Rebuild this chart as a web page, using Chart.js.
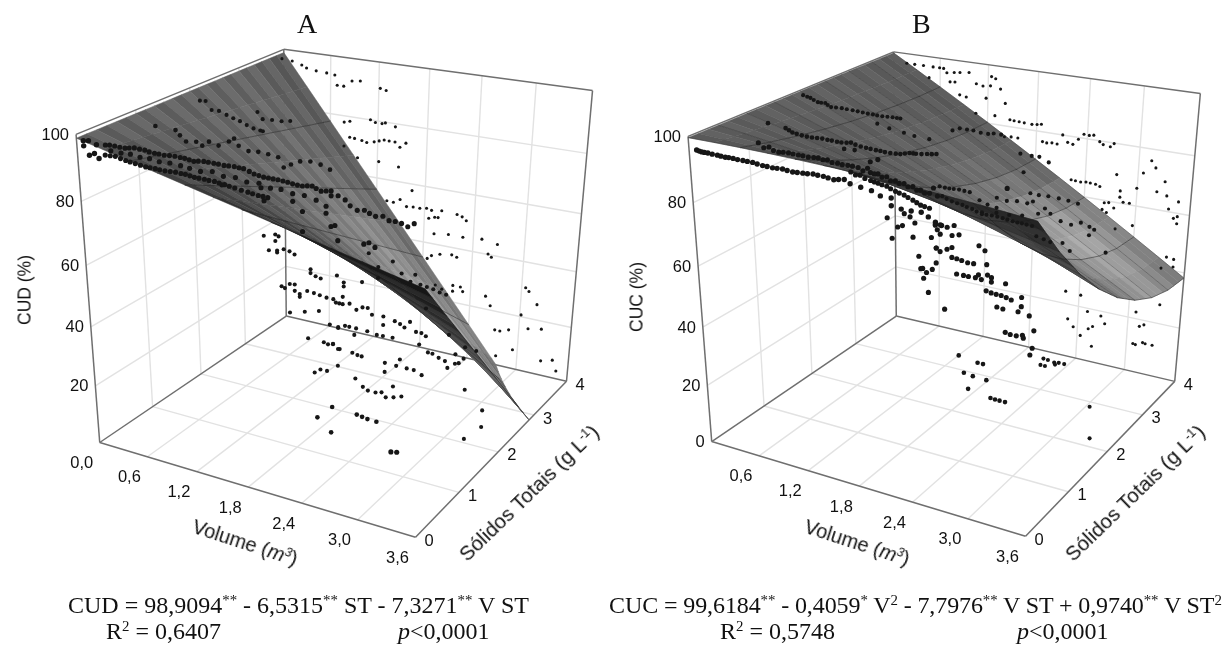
<!DOCTYPE html>
<html>
<head>
<meta charset="utf-8">
<script src="https://cdn.jsdelivr.net/npm/chart.js@4/dist/chart.umd.min.js"></script>
<style>
html, body { margin: 0; padding: 0; background: #fff; }
#page { position: relative; width: 1223px; height: 646px; overflow: hidden; }
canvas { position: absolute; top: 0; }
.t { position: absolute; white-space: nowrap; color: #111; }
.serif { font-family: "Liberation Serif", serif; }
.sans { font-family: "Liberation Sans", sans-serif; }
sup { font-size: .62em; line-height: 0; vertical-align: .55em; }
</style>
</head>
<body>
<div id="page">
  <canvas id="chartA" width="610" height="646" style="left:0"></canvas>
  <canvas id="chartB" width="613" height="646" style="left:610px"></canvas>

  <div class="t serif" style="left:297px;top:8px;font-size:28px">A</div>
  <div class="t serif" style="left:912px;top:8px;font-size:28px">B</div>

  <div class="t sans" style="left:25px;top:290px;font-size:17.5px;transform:translate(-50%,-50%) rotate(-90deg)">CUD (%)</div>
  <div class="t sans" style="left:637px;top:297px;font-size:17.5px;transform:translate(-50%,-50%) rotate(-90deg)">CUC (%)</div>
  <div class="t sans" style="left:245px;top:543px;font-size:20px;transform:translate(-50%,-50%) rotate(18deg)">Volume (<i>m<sup>3</sup></i>)</div>
  <div class="t sans" style="left:857px;top:543px;font-size:20px;transform:translate(-50%,-50%) rotate(18deg)">Volume (<i>m<sup>3</sup></i>)</div>
  <div class="t sans" style="left:529px;top:493px;font-size:20.5px;transform:translate(-50%,-50%) rotate(-44deg)">Sólidos Totais (g L<sup>-1</sup>)</div>
  <div class="t sans" style="left:1135px;top:493px;font-size:20.5px;transform:translate(-50%,-50%) rotate(-44deg)">Sólidos Totais (g L<sup>-1</sup>)</div>

  <div class="t serif" style="left:68px;top:592px;font-size:24px">CUD = 98,9094<sup>**</sup> - 6,5315<sup>**</sup> ST - 7,3271<sup>**</sup> V ST</div>
  <div class="t serif" style="left:106px;top:618px;font-size:24px">R<sup>2</sup> = 0,6407</div>
  <div class="t serif" style="left:398px;top:618px;font-size:24px"><i>p</i>&lt;0,0001</div>
  <div class="t serif" style="left:609px;top:592px;font-size:24px;letter-spacing:-.1px">CUC = 99,6184<sup>**</sup> - 0,4059<sup>*</sup> V<sup>2</sup> - 7,7976<sup>**</sup> V ST + 0,9740<sup>**</sup> V ST<sup>2</sup></div>
  <div class="t serif" style="left:720px;top:618px;font-size:24px">R<sup>2</sup> = 0,5748</div>
  <div class="t serif" style="left:1017px;top:618px;font-size:24px"><i>p</i>&lt;0,0001</div>
</div>

<script>
const volumeTicks = [0, 0.6, 1.2, 1.8, 2.4, 3.0, 3.6];
const stTicks = [0, 1, 2, 3, 4];
const pctTicks = [0, 20, 40, 60, 80, 100];

// fitted surface heights read at volume = 0, 0.3 .. 3.6 (rows), st = 0, 0.5 .. 4 (cols)
const surfaceVol = [0, 0.3, 0.6, 0.9, 1.2, 1.5, 1.8, 2.1, 2.4, 2.7, 3.0, 3.3, 3.6];
const surfaceSt = [0, 0.5, 1, 1.5, 2, 2.5, 3, 3.5, 4];
const surfaceA = [
  [98.9, 98.9, 98.9, 98.9, 98.9, 98.9, 98.9, 98.9, 98.9],
  [96.95, 95.85, 94.75, 93.65, 92.56, 91.46, 90.36, 89.26, 88.16],
  [94.99, 92.79, 90.59, 88.4, 86.2, 84.0, 81.8, 79.6, 77.41],
  [93.03, 89.73, 86.44, 83.14, 79.84, 76.55, 73.25, 69.95, 66.66],
  [91.07, 86.67, 82.28, 77.88, 73.49, 69.09, 64.69, 60.3, 55.9],
  [89.11, 83.61, 78.12, 72.62, 67.13, 61.63, 56.14, 50.64, 45.15],
  [87.15, 80.55, 73.96, 67.37, 60.77, 54.18, 47.59, 40.99, 34.4],
  [85.19, 77.5, 69.8, 62.11, 54.42, 46.72, 39.03, 31.34, 23.64],
  [83.23, 74.44, 65.65, 56.85, 48.06, 39.27, 30.47, 21.68, 12.89],
  [81.27, 71.38, 61.49, 51.6, 41.7, 31.81, 21.92, 12.03, 2.14],
  [79.32, 68.33, 57.34, 46.35, 35.36, 24.37, 13.38, 2.39, -8.6],
  [77.36, 65.27, 53.18, 41.09, 29.0, 16.91, 4.82, -7.27, -19.36],
  [75.4, 62.21, 49.02, 35.83, 22.64, 9.45, -3.74, -16.93, -30.12]
];
const surfaceB = [
  [99.62, 99.62, 99.62, 99.62, 99.62, 99.62, 99.62, 99.62, 99.62],
  [99.58, 98.48, 97.53, 96.73, 96.07, 95.56, 95.19, 94.97, 94.9],
  [99.47, 97.28, 95.38, 93.77, 92.45, 91.43, 90.69, 90.25, 90.11],
  [99.29, 96.0, 93.15, 90.74, 88.76, 87.23, 86.13, 85.47, 85.25],
  [99.04, 94.65, 90.85, 87.63, 85.0, 82.95, 81.49, 80.61, 80.31],
  [98.71, 93.23, 88.47, 84.45, 81.16, 78.6, 76.77, 75.67, 75.3],
  [98.3, 91.72, 86.02, 81.19, 77.24, 74.17, 71.97, 70.65, 70.21],
  [97.83, 90.15, 83.5, 77.87, 73.26, 69.68, 67.11, 65.57, 65.06],
  [97.28, 88.51, 80.9, 74.47, 69.2, 65.11, 62.18, 60.42, 59.83],
  [96.66, 86.79, 78.24, 71.0, 65.07, 60.46, 57.17, 55.19, 54.52],
  [95.97, 85.01, 75.5, 67.46, 60.87, 55.75, 52.09, 49.89, 49.15],
  [95.2, 83.14, 72.68, 63.83, 56.59, 50.96, 46.93, 44.51, 43.7],
  [94.36, 81.2, 69.79, 60.14, 52.24, 46.1, 41.7, 39.06, 38.18]
];

// observed points, one inner list per st level
const stLevels = [0, 0.4, 1.2, 2, 3.6];
const volA = [
  [.08,.14,.23,.08,.14,.2,.25],
  [.04,.15,.27,.38,.5,.61,.72,.84,.95,1.05,1.16,1.27,1.38,1.49,1.59,1.7,1.8,1.9,2,2.1,2.2,2.3,2.39,2.49,
   2.49,2.56,2.63,2.68,2.75,2.82,2.87,2.93,3,3.06,3.12,3.18,3.24,3.3,
   .03,.15,.27,.38,.5,.61,.72,.84,.95,1.05,1.16,1.27,1.38,1.49,1.63,1.74,1.84,
   1.35,1.77,1.8,2.1,2.2,2.44,2.44,2.49,2.2,2.53,2.56,2.82,2.87,2.93,
   1,1.12,1.25,1.37,1.5,1.62,1.75,1.87,1.98,2.1,2.22,2.34,3.14,3.2,
   .1,.22,.33,.44,.55,.66,.78,.9,
   .09,.21,.32,.44,.55,.66,.78,.9,1,1.1,1.21,1.32,1.43,1.54,1.65,1.75,1.85,1.95,2.05,2.15,2.25,2.34,2.44,
   .09,.21,.32,.44,.55,.66,.78,.9,1,1.1,1.21,1.32,1.43,1.56,1.68,1.79],
  [.09,.33,.38,.45,.57,.64,.72,.83,.95,1.01,1.06,1.17,1.28,1.39,1.5,1.56,1.64,1.74,1.85,1.96,2.06,
   2.1,1.93,2.09,2.38,2.44,2.5,2.6],
  [.12,.19,.26,.35,.44,.52,.6,.68,.76,.84,.87,.81,.87,.98,1.09,1.19,
   .86,1,1.04,1,.92,1.02,1.1,1.17,1.23,1.02,1.42,1.42,1.48,1.54,1.73,
   1.07,1.17,1.23,1.11,1.23,1.29,1.29,1.38,1.46,1.53,1.61,1.69,1.76,1.17,1.35,1.52,
   1.39,1.58,1.63,1.69,1.75,1.75,1.47,1.54,1.62,1.75,
   1.72,1.8,1.88,1.96,2.03,2.09,2.14,1.8,1.81,1.81,2.02,
   2.27,2.27,2.4,2.46,2.51,2.57,2.64,2.7,2.75,2.68,
   1.65,1.75,1.83,1.88,1.96,1.94,2.09,2.2,2.27,2.38,
   2.78,2.83,2.9,2.97,3.08,3.12,3,1.69,1.77,1.92,1.98,2.03,
   2.47,2.3,2.43,2.55,2.63,2.3,2.72,
   1.96,2.05,2.11,2.2,2.27,2.32,2.41,2.5,2.4,3.2,3.4,3.4,3.22,
   2.61,2.67,2.74,2.81,2.88,2.95,2.2,2.09,2.36,2.46,2.56,2.2,2.74,3,3.08,3.18,3.3,3.17],
  [.2,.33,.45,.51,.63,.76,.86,.89,.97,1.07,1.17,1.41,1.48,
   .98,1.05,1.3,1.36,1.44,1.48,1.6,
   1.05,1.11,1.2,1.26,1.35,1.41,1.47,1.53,1.6,1.66,1.73,
   .98,1.15,1.41,1.65,1.82,
   1.52,1.6,1.68,1.76,1.84,1.92,2,2.06,2.14,2.03,2.1,2.18,
   2.1,2.27,2.44,2.66,2.84,2.36,2.42,2.47,
   2.03,2.08,2.18,2.32,2.38,2.74,2.78,
   3.19,3.23,3.33,2.74,2.8,3.16,2.87,2.93,3.03,3.25,3.4,3.09,3.42,3.55,2.9,3.6,
   2.35,2.44,2.47,2.35,2.22,2.14]
];
const cudA = [
  [98.5,98.8,98,97,94.5,95.3,94.1],
  [94,94.2,94.1,94.7,94.6,94.2,94.1,94.4,94.3,93.9,94.4,94.4,94.3,94.5,94.4,93.4,93,93,92.9,92.6,92.5,93,92,92.6,
   91.2,91.6,90.8,89.4,88.5,88.9,88.3,87.8,88.2,87.3,87.4,87.2,86.6,87.8,
   90.9,91.1,90.4,90,89.6,89.6,89.5,89.7,89.6,89.2,89.2,89.1,88.7,88.3,87.8,87.4,87.3,
   88.5,89.8,86.2,87.6,85.2,88,86,82.5,79.4,83,78.8,79.3,80,79,
   91.6,91.3,91.9,91.1,91.4,90.7,91,90.2,90.4,89.8,89.9,89.2,18,18.4,
   92.5,92.4,92.6,92.2,92.3,91.9,92.1,91.9,
   94.2,94.1,94.4,94.6,94.3,94.2,94.3,94.3,94.1,94.2,94.4,94.4,94.4,94.4,93.9,93.2,93,93,92.8,92.5,92.8,92.5,92.3,
   91,90.7,90.2,89.8,89.6,89.5,89.6,89.6,89.4,89.2,89.1,88.9,88.5,88,87.6,87.4],
  [94,93.8,92.4,90.8,91.3,90.4,92,91.3,93.1,94.3,92.3,91.2,91.5,91.3,90.9,88.1,89.4,90.8,91.3,90.9,89.9,
   14,9,5,13.6,13.3,13,12.9],
  [96.4,96.6,94,94.1,93.2,92.5,91.9,91,90.3,90,89.9,95.7,93.7,93.9,94,94.5,
   55.6,56.8,56.4,54.6,51,51.5,52.4,52.1,51.4,50.8,47.5,46.2,45.5,45.1,47.3,
   39.5,40.9,41.1,39.1,38.9,38.2,37.2,39.8,39.6,39.3,39,39,38,30.9,32.4,33.8,
   23.3,23.2,22.8,23.4,22,29.4,11.5,13.1,13.2,16,
   38,38,38.7,37.1,38.4,38.6,36.6,40.5,45.4,44.1,46.9,
   36.9,34,36.2,35.6,34.8,37.1,34.2,34.2,33.5,30.2,
   29.9,29.7,30.7,30.7,30.7,28.3,30.6,30.1,30.2,30.4,
   28.2,28.1,27.2,26.6,26.5,27,24.5,23.3,22.1,21.9,21.5,21.4,
   23.5,21.1,21,21,21,17.9,19.9,
   13,10.7,9.8,9.8,10.4,9,9.7,10.7,13.5,18.5,12.9,7.1,1.4,
   53,50.1,49.8,49.5,48.9,48.6,53,56.9,55.8,52.5,50.4,49.4,42.7,35.7,29.7,32.8,32.4,28.9],
  [100,99.7,98.8,98,97.5,97.3,97,93.7,93.7,95.8,96.2,94.7,94.3,
   81.6,82.2,83.8,83.1,83.1,83.5,82.7,
   76.7,76.6,76.3,75.9,76.5,77.1,77.7,77.6,77.6,76.1,77.8,
   73.4,70.1,70,69.3,62,
   56.9,56.8,58.2,56.1,56.4,56.4,56.8,56.4,54.3,53.5,54.2,56.9,
   48.4,49.1,49.1,49.7,48.9,56.6,56.1,55,
   39.2,40.5,41.6,42.2,41.7,45,44.1,
   35.9,34.8,30.8,30,26.9,26,18.6,18.6,19.7,21.6,22.5,12.8,11.1,12.3,9.2,8.7,
   31.4,31.4,29.9,29.3,29.2,30.2]
];
const volB = [
  [.09,.15,.22,.33,.42,.51,.62,.73,.84,.95,1.06,1.17,1.28,1.39,1.5,1.61,1.72,
   1.78,1.89,2,2.09,2.2,2.2,2.3,2.4,2.5,2.57,2.64,2.7,
   .12,.18,.27,.37,.46,.56,.67,.78,.89,1,1.11,1.22,1.33,1.44,1.55,1.66],
  [.53,.65,.76,.87,.98,1.09,1.2,1.3,1.41,1.52,1.63,1.73,1.76,1.84,
   1.76,1.84,1.93,2.02,2.11,2.2,2.28,2.37,2.45,
   1.55,1.65,1.76,1.84,1.93,2.02,2.11,2.2,2.28,2.37,2.45,
   1.93,2.04,2.09,2.17,2.11,2.2,1.98,2.22,2.44,2.26,2.4,2.28,2.3,2.34,2.31,2.36,2.39,2.44,2.43,
   2.43,2.48,2.55,2.62,2.67,2.48,2.6,2.44,2.55,2.6,2.87,2.93,2.95,
   2.6,2.65,2.7,2.76,2.82,2.87,2.48,3.14,
   2.65,2.72,2.77,2.84,2.9,2.96,3,3,3.3,
   2.95,3,3.05,3.1,3.15,3.2,3.3,3.27,3.06,3.12,3.38,3.43,2.53,3.32,
   3.15,3.2,3.26,3.33,3.42,3.4,3.13,
   .59,.7,.81,.92,1.03,1.15,1.25,1.35,1.46,1.57,1.68,
   1.8,1.88,1.97,2.06,2.15,2.24,2.32,2.41,
   1.6,1.7,1.8,1.88,1.97,2.06,2.15,2.24,2.32,2.41],
  [.32,.4,.51,.63,.75,.86,.97,1.08,1.19,1.3,1.41,1.52,1.63,1.73,1.8,1.92,2.02,.11,1,1.12,
   2.28,2.49,2.55,2.34,2.44,2.59,2.39,2.64,2.69,2.74,2.8,
   .36,.45,.57,.69,.81,.92,1.03,1.13,1.25,1.36,1.46,1.58,1.68,1.77,1.86,1.97],
  [.03,.12,.21,.3,.37,.5,.63,.75,.87,.98,1.1,1.19,.92,1.06,1.23,1.35,1.52,
   1.78,1.86,1.94,2.01,2.09,2.17,2.23,2.31,2.52,2.64,2.72,2.82,2.56,
   2.64,2.73,2.83,2.94,3.04,3.14,2.28,2.39,2.5,2.61,2.67,2.09,2.18,2.28,
   2.8,2.86,2.97,3.08,3.18,3.27,3.32,2.73,2.56,2.42,2.28,2.12,
   1.64,1.75,1.86,1.98,1.67,1.78,1.9,2.01,2.12,2.23,2.35,2.46,2.56,2.67,
   2.72,2.8,2.87,3,3.08,3.27,3.45,
   2.85,2.9,2.97,3.02,3.08,2.87,2.82,2.98,3.38,3.4,
   .08,.16,.25,.33,.43,.56,.69,.81,.92,1.04,1.15,
   1.7,1.8,1.92,1.72,1.84,1.95,2.06,2.17,2.29,2.4,2.51,2.61],
  [.39,.49,.6,.72,.85,.67,.8,.89,.98,1.05,1.16,.93,.99,1.25,1.33,1.42,1.43,1.48,1.54,1.05,1.13,1.37,1.6,1.25,1.48,
   1.66,1.71,1.77,1.83,1.92,1.98,2.03,
   2.05,2.1,2.16,2.22,2.28,2.34,2.4,2.46,2.52,2.58,2.63,2.7,2.74,2.82,2.86,1.76,1.68,1.6,
   2.4,2.45,2.51,2.57,2.62,2.68,2.73,
   3.28,3.33,3.2,2.91,3.44,3.36,3.47,3.6,3.5,3.56,3.6,3.6,
   3.14,2.96,2.96,3,3.07,2.79,2.84,2.9,2.77,2.82,3.12,2.93,3.52,3.6,
   2.4,2.58,2.67,2.83,2.44,2.51,2.6,2.69,2.74,2.88,2.74,3.23,3.49,3.28,3.33,3.22,3.25,3.33,3.36,3.44,3.47,3.6]
];
const cucB = [
  [96.4,96.1,96.1,96,95.8,95.9,95.8,95.8,95.4,95.3,95.5,95.2,95.4,95.7,95.6,95.2,95.8,
   94.9,94.5,94.1,93.1,93.1,90.9,90.5,90.5,90.7,89.8,88.7,88.1,
   96.2,96.1,96,95.9,95.9,95.8,95.8,95.6,95.4,95.4,95.3,95.3,95.5,95.6,95.4,95.5],
  [97.5,96.8,95.8,96.1,96,95.9,96.2,96.1,95.7,95.6,95.5,95.8,97.8,98.8,
   94.7,94.7,94.3,93.6,93.3,92.9,92.3,91.9,91.5,
   93.8,93.4,92.4,92,91.6,90.6,90,89,88,87.6,
   81.8,82.4,80.3,81,84,84.6,78.2,76.6,82.5,72,72.9,69.8,69.3,69.5,68.5,66.6,62.6,79.2,76.4,
   83,83.3,83.4,83.1,84,81.6,80.7,77.5,76.4,76.7,81,79.6,78.5,
   74.6,74.6,74.5,74.3,74,74.1,71.1,75.6,
   70.2,70,70,70,70.1,69.9,71.6,69.8,71.1,
   67.2,66.9,66.6,66.5,66.5,66.2,65.8,64.5,62.8,62.8,62.6,62.3,58.2,58.6,
   56.1,55.8,55.5,55.5,55.3,52.9,50.7,
   97.2,96.3,96,96,96,96,96.1,95.9,95.6,95.5,95.6,
   94.8,94.5,94,93.4,93.1,92.6,92.1,91.7,
   93.6,93.2,92.7,92.2,91.8,91.1,90.3,89.5,88.5,87.8],
  [95,94,93.6,93.5,93.7,93.6,93.5,94,93.3,93.1,93,92.9,93.1,93.9,94,94.5,95,95.6,91.7,91.9,
   33,32.1,32.1,27.6,27.2,27,22.5,21.3,21.2,21.2,21.2,
   94.5,93.8,93.5,93.6,93.6,93.5,93.7,93.6,93.2,93,92.9,93,93.5,94,94.2,94.7],
  [98.5,98,97,97.1,96.1,96.3,96.2,96,95.9,95.8,96,96,93.2,92.3,91.7,91.2,91,
   94.9,95.9,95.9,95.9,95.6,95.6,96,96,91.2,91.1,91.2,90,85.7,
   79.6,79.5,79.7,79.6,79.4,79,76.3,75.9,76.4,76.3,77.2,74.5,73.6,73.1,
   75.7,74.4,72.7,72.2,73.4,72.6,72,73.7,72.2,71.6,71.5,70.8,
   76.6,76.5,76.7,76.5,73.6,72.5,72,71.3,70.2,70.4,70.2,69.8,69.7,69.5,
   66.5,66,65.5,66,63.9,70,65.6,
   26.7,26.6,26.2,26.5,26.5,24.3,24.3,25.6,14,3,
   98.2,97.5,97,96.6,96.2,96.2,96.1,95.9,95.8,95.9,96,
   76.5,76.6,76.6,73,72.2,71.6,70.7,70.3,70.3,70,69.7,69.6],
  [100,100,100,100,100,96.2,100,98.7,99.1,99.4,99.8,95.8,96,96.4,96,96.4,99.5,99,95.8,91.9,91.5,92.1,91.3,86.5,86.7,
   86.1,86,85.9,85.8,85.7,85.9,86.2,
   80.5,80.3,80.6,80.5,83.8,81.6,81.2,83.2,85.1,85,85.3,83.5,82.7,82.4,83.6,80.4,80.4,80.1,
   69.3,69.2,69.1,69.4,69.3,69.2,68.7,
   80,77.9,75.6,73.6,73.9,70.2,69.4,68.1,65.2,62.4,63.2,60.8,
   70.2,68.4,66.3,64.8,64.8,63.5,63.8,62.3,61.1,60.3,57.5,55.3,49,48.7,
   29.9,29.6,24.2,23.6,19.9,17.4,14.8,17.9,19.1,21.1,11.7,27.8,32.1,22.9,23.8,16.2,16,17.3,17.1,17.1,44.9,46.1]
];

// grey level of the surface, volume 0, .9, 1.8, 2.7, 3.6 by st 0, 1, 2, 3, 4
const shadeA = [
  [100, 100, 100, 100, 90],
  [75, 90, 105, 110, 90],
  [50, 85, 125, 145, 105],
  [32, 65, 125, 165, 125],
  [25, 55, 95, 50, 28]
];
const shadeB = [
  [95, 95, 95, 95, 90],
  [85, 90, 95, 95, 90],
  [55, 85, 105, 115, 95],
  [45, 95, 140, 175, 130],
  [35, 70, 115, 155, 115]
];

// box corners on the page: floor origin, end of volume, end of st, top of pct axis
const camA = { o: [97, 444], u: [417, 540], v: [286, 316], w: [73, 132] };
const camB = { o: [709, 443], u: [1027, 539], v: [896, 316], w: [685, 134] };
const persp = { p: -0.1118, q: 0.187, r: -0.1 };

function makeProjector(cam) {
  const o = cam.o, p = persp.p, q = persp.q, r = persp.r;
  const ax = [0, 1].map(i => [cam.u[i] * (1 + p) - o[i], cam.v[i] * (1 + q) - o[i], cam.w[i] * (1 + r) - o[i]]);
  return function (vol, st, pct) {
    const u = vol / 3.6, v = st / 4, w = pct / 100;
    const d = 1 + p * u + q * v + r * w;
    return {
      x: (o[0] + ax[0][0] * u + ax[0][1] * v + ax[0][2] * w) / d,
      y: (o[1] + ax[1][0] * u + ax[1][1] * v + ax[1][2] * w) / d
    };
  };
}

function bilerp(table, a, b) {
  const i = Math.min(Math.floor(a), table.length - 2), j = Math.min(Math.floor(b), table[0].length - 2);
  const s = a - i, t = b - j;
  return (table[i][j] * (1 - t) + table[i][j + 1] * t) * (1 - s) + (table[i + 1][j] * (1 - t) + table[i + 1][j + 1] * t) * s;
}

// keep only the part of a cell above the floor
function clipFloor(poly) {
  const out = [];
  poly.forEach((c, i) => {
    const n = poly[(i + 1) % poly.length];
    if (c[2] >= 0) out.push(c);
    if ((c[2] >= 0) !== (n[2] >= 0)) {
      const k = c[2] / (c[2] - n[2]);
      out.push([c[0] + (n[0] - c[0]) * k, c[1] + (n[1] - c[1]) * k, 0]);
    }
  });
  return out;
}

function buildPanel(cam, surface, shade, vols, values, opts) {
  const proj = makeProjector(cam);
  const datasets = [];
  const add = (pts, color, width, fillColor) => {
    datasets.push({
      data: pts, showLine: true, pointRadius: 0, borderColor: color, borderWidth: width,
      fill: fillColor ? 'shape' : false, backgroundColor: fillColor || 'transparent',
      order: -datasets.length
    });
  };
  const seg = (a, b) => add([proj(a[0], a[1], a[2]), proj(b[0], b[1], b[2])], opts.grid, 1.4);

  // wall and floor grid
  volumeTicks.slice(1, -1).forEach(v => {
    seg([v, 0, 0], [v, 4, 0]);
    seg([v, 4, 0], [v, 4, 100]);
  });
  stTicks.slice(1, -1).forEach(s => {
    seg([0, s, 0], [3.6, s, 0]);
    seg([0, s, 0], [0, s, 100]);
  });
  pctTicks.slice(1, -1).forEach(z => {
    seg([0, 0, z], [0, 4, z]);
    seg([0, 4, z], [3.6, 4, z]);
  });

  // box frame
  [[[0, 0, 0], [3.6, 0, 0]], [[3.6, 0, 0], [3.6, 4, 0]], [[3.6, 4, 0], [0, 4, 0]], [[0, 4, 0], [0, 0, 0]],
   [[0, 0, 0], [0, 0, 100]], [[0, 4, 0], [0, 4, 100]], [[3.6, 4, 0], [3.6, 4, 100]],
   [[0, 0, 100], [0, 4, 100]], [[0, 4, 100], [3.6, 4, 100]]].forEach(e => {
    add([proj(e[0][0], e[0][1], e[0][2]), proj(e[1][0], e[1][1], e[1][2])], '#6f6f6f', 1.5);
  });

  // surface, far cells first
  const sub = 3;
  for (let j = surfaceSt.length - 2; j >= 0; j--) {
    for (let k = sub - 1; k >= 0; k--) {
      for (let i = 0; i < surfaceVol.length - 1; i++) {
        const t0 = j + k / sub, t1 = j + (k + 1) / sub;
        const cell = [[i, t0], [i + 1, t0], [i + 1, t1], [i, t1]].map(c =>
          [surfaceVol[c[0]], (c[1]) * 0.5, bilerp(surface, c[0], c[1])]);
        const poly = clipFloor(cell);
        if (poly.length < 3) continue;
        const g = Math.round(bilerp(shade, (i + 0.5) / 3, (t0 + t1) / 4) + ((j * sub + k) % 2 ? opts.stripe : -opts.stripe));
        const col = 'rgb(' + g + ',' + g + ',' + g + ')';
        const pts = poly.map(c => proj(c[0], c[1], c[2]));
        pts.push(pts[0]);
        add(pts, col, 0.5, col);
      }
    }
  }

  // darker mesh lines over the surface
  surfaceVol.forEach((v, i) => {
    if (i % 2 || i === 0) return;
    const pts = [];
    surfaceSt.forEach((s, j) => { if (surface[i][j] >= 0) pts.push(proj(v, s, surface[i][j])); });
    add(pts, 'rgba(25,25,25,.6)', 0.8);
  });
  if (opts.stMesh) {
    surfaceSt.forEach((s, j) => {
      const pts = [];
      surfaceVol.forEach((v, i) => { if (surface[i][j] >= 0) pts.push(proj(v, s, surface[i][j])); });
      add(pts, 'rgba(25,25,25,.45)', 0.7);
    });
  }

  // observed points
  stLevels.forEach((st, n) => {
    datasets.push({
      data: vols[n].map((v, i) => proj(v, st, values[n][i])),
      pointRadius: 2.7 - 0.32 * st,
      pointBackgroundColor: '#161616', pointBorderWidth: 0,
      order: -datasets.length
    });
  });
  return { datasets, proj };
}

// tick labels next to the box edges
function tickLabelPlugin(proj, pctLabels, volLabels) {
  return {
    id: 'tickLabels',
    afterDatasetsDraw(chart) {
      const c = chart.ctx, sx = chart.scales.x, sy = chart.scales.y;
      const put = (txt, p, dx, dy) => c.fillText(txt, sx.getPixelForValue(p.x) + dx, sy.getPixelForValue(p.y) + dy);
      c.save();
      c.font = '16.5px "Liberation Sans"';
      c.fillStyle = '#111';
      c.textAlign = 'right';
      c.textBaseline = 'middle';
      pctLabels.forEach(z => put(String(z), proj(0, 0, z), -7, 1));
      c.textAlign = 'center';
      volLabels.forEach(v => put(v.toFixed(1).replace('.', ','), proj(v, 0, 0), -18, 21));
      c.textAlign = 'left';
      stTicks.forEach(s => put(String(s), proj(3.6, s, 0), 9, 4));
      c.restore();
    }
  };
}

function drawPanel(id, left, width, panel, plugin) {
  new Chart(document.getElementById(id), {
    type: 'scatter',
    data: { datasets: panel.datasets },
    options: {
      responsive: false,
      animation: false,
      events: [],
      layout: { padding: 0 },
      plugins: { legend: { display: false }, tooltip: { enabled: false } },
      scales: {
        x: { type: 'linear', display: false, min: left, max: left + width },
        y: { type: 'linear', display: false, min: 0, max: 646, reverse: true }
      }
    },
    plugins: [plugin]
  });
}

const panelA = buildPanel(camA, surfaceA, shadeA, volA, cudA, { grid: '#e2e2e2', stMesh: false, stripe: 7 });
const panelB = buildPanel(camB, surfaceB, shadeB, volB, cucB, { grid: '#e2e2e2', stMesh: true, stripe: 4 });
drawPanel('chartA', 0, 610, panelA, tickLabelPlugin(panelA.proj, [20, 40, 60, 80, 100], volumeTicks));
drawPanel('chartB', 610, 613, panelB, tickLabelPlugin(panelB.proj, pctTicks, volumeTicks.slice(1)));
</script>
</body>
</html>
